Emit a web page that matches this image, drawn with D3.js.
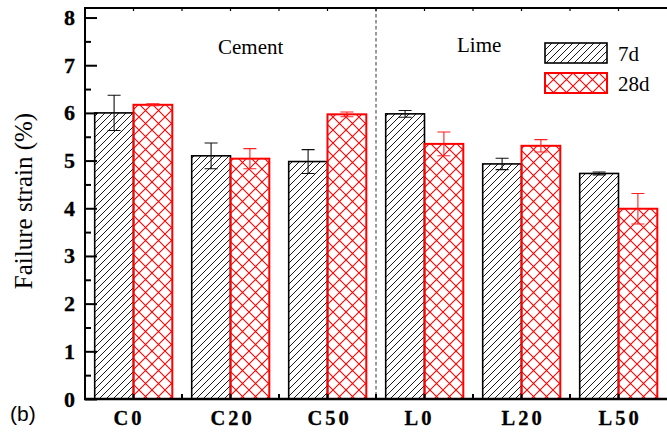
<!DOCTYPE html>
<html>
<head>
<meta charset="utf-8">
<script src="https://cdn.jsdelivr.net/npm/d3@7/dist/d3.min.js"></script>
<style>
  html, body { margin: 0; padding: 0; background: #fff; }
  svg { display: block; }
  .serif { font-family: "Liberation Serif", "Times New Roman", Times, serif; }
  .sans { font-family: "Liberation Sans", Arial, Helvetica, sans-serif; }
</style>
</head>
<body>
<svg id="chart" width="667" height="434"></svg>
<script>
// Failure strain of cement- and lime-treated mixes after 7 and 28 days
const categories = ["C0", "C20", "C50", "L0", "L20", "L50"];
const seriesNames = ["7d", "28d"];
const strain7d  = [6.00, 5.10, 4.98, 5.98, 4.93, 4.73];
const err7d     = [0.37, 0.27, 0.25, 0.07, 0.12, 0.03];
const strain28d = [6.17, 5.04, 5.97, 5.35, 5.31, 3.99];
const err28d    = [0.02, 0.21, 0.05, 0.25, 0.13, 0.32];
const yTicks = [0, 1, 2, 3, 4, 5, 6, 7, 8];
const yMinorTicks = [0.5, 1.5, 2.5, 3.5, 4.5, 5.5, 6.5, 7.5];
const groupLabels = ["Cement", "Lime"];

const rows = categories.map((c, i) => ({
  cat: c,
  bars: [
    { s: "7d", v: strain7d[i], e: err7d[i] },
    { s: "28d", v: strain28d[i], e: err28d[i] }
  ]
}));

const svg = d3.select("#chart");
const plotL = 85, plotR = 667, plotT = 8, plotB = 399;

const x = d3.scaleBand().domain(categories).range([plotL, plotR]).padding(0);
const bw = x.bandwidth();
const xs = d3.scaleBand().domain(seriesNames).range([bw * 0.1, bw * 0.9]).padding(0);
const y = d3.scaleLinear().domain([0, 8.2]).range([plotB, plotT]);

// hatch patterns
const defs = svg.append("defs");
const hatch = defs.append("pattern")
  .attr("id", "hatch7").attr("patternUnits", "userSpaceOnUse")
  .attr("width", 7).attr("height", 7);
hatch.append("path").attr("d", "M-1,1 L1,-1 M0,7 L7,0 M6,8 L8,6")
  .attr("stroke", "#000").attr("stroke-width", 0.9);

const cross = defs.append("pattern")
  .attr("id", "cross28").attr("patternUnits", "userSpaceOnUse")
  .attr("width", 13).attr("height", 13).attr("x", 2);
cross.append("path").attr("d", "M0,0 L13,13 M0,13 L13,0")
  .attr("stroke", "#ff0000").attr("stroke-width", 1.1);

const fillOf = s => s === "7d" ? "url(#hatch7)" : "url(#cross28)";
const strokeOf = s => s === "7d" ? "#000" : "#ff0000";

// bars
const grp = svg.append("g").selectAll("g.grp").data(rows).join("g")
  .attr("class", "grp")
  .attr("transform", d => `translate(${x(d.cat)},0)`);

grp.selectAll("rect.bar").data(d => d.bars).join("rect")
  .attr("class", "bar")
  .attr("x", d => xs(d.s))
  .attr("y", d => y(d.v))
  .attr("width", xs.bandwidth())
  .attr("height", d => y(0) - y(d.v))
  .attr("fill", d => fillOf(d.s))
  .attr("stroke", d => strokeOf(d.s))
  .attr("stroke-width", d => d.s === "7d" ? 1.6 : 2);

// error bars
const cap = 6.5;
grp.selectAll("path.err").data(d => d.bars).join("path")
  .attr("class", "err")
  .attr("stroke", d => d.s === "7d" ? "#111" : "#ff2020")
  .attr("stroke-width", 1.1)
  .attr("fill", "none")
  .attr("d", d => {
    const cx = xs(d.s) + xs.bandwidth() / 2;
    const y1 = y(d.v + d.e), y2 = y(d.v - d.e);
    return `M${cx},${y1}V${y2}M${cx - cap},${y1}H${cx + cap}M${cx - cap},${y2}H${cx + cap}`;
  });

// dashed separator between the cement and lime groups
const sepX = x("L0");
svg.append("line")
  .attr("x1", sepX).attr("x2", sepX).attr("y1", plotT).attr("y2", plotB)
  .attr("stroke", "#333").attr("stroke-width", 1)
  .attr("stroke-dasharray", "3.5,2.5");

// axes frame
svg.append("line").attr("x1", plotL).attr("x2", plotL).attr("y1", plotT - 1).attr("y2", plotB + 1)
  .attr("stroke", "#000").attr("stroke-width", 2);
svg.append("line").attr("x1", plotL - 1).attr("x2", plotR).attr("y1", plotT).attr("y2", plotT)
  .attr("stroke", "#000").attr("stroke-width", 2);
svg.append("line").attr("x1", plotL - 1).attr("x2", plotR).attr("y1", plotB).attr("y2", plotB)
  .attr("stroke", "#000").attr("stroke-width", 2.5);

// left axis with inward ticks
const yAxis = d3.axisRight(y).tickValues(yTicks).tickSize(12).tickFormat("");
svg.append("g").attr("transform", `translate(${plotL},0)`).call(yAxis)
  .call(a => a.select(".domain").remove())
  .call(a => a.selectAll("line").attr("stroke", "#000").attr("stroke-width", 2));
const yMinor = d3.axisRight(y).tickValues(yMinorTicks).tickSize(6).tickFormat("");
svg.append("g").attr("transform", `translate(${plotL},0)`).call(yMinor)
  .call(a => a.select(".domain").remove())
  .call(a => a.selectAll("line").attr("stroke", "#000").attr("stroke-width", 2));

svg.append("g").selectAll("text").data(yTicks).join("text")
  .attr("class", "serif")
  .attr("x", 75).attr("y", d => y(d) + 7.5)
  .attr("text-anchor", "end")
  .attr("font-weight", "bold").attr("font-size", 22)
  .attr("stroke", "#000").attr("stroke-width", 0.3)
  .text(d => d);

// bottom and top axes: small inward ticks at group centres and boundaries
const xTickPos = [];
categories.forEach((c, i) => {
  xTickPos.push(x(c) + bw / 2);
  if (i > 0) xTickPos.push(x(c));
});
svg.append("g").selectAll("line").data(xTickPos).join("line")
  .attr("x1", d => d).attr("x2", d => d)
  .attr("y1", plotB).attr("y2", plotB - 5)
  .attr("stroke", "#000").attr("stroke-width", 2);
svg.append("g").selectAll("line").data(xTickPos).join("line")
  .attr("x1", d => d).attr("x2", d => d)
  .attr("y1", plotT).attr("y2", plotT + 3)
  .attr("stroke", "#000").attr("stroke-width", 1.2);

// category labels start a fixed distance left of each group centre
svg.append("g").selectAll("text").data(categories).join("text")
  .attr("class", "serif")
  .attr("x", d => x(d) + bw / 2 - 20).attr("y", 425)
  .attr("text-anchor", "start")
  .attr("font-weight", "bold").attr("font-size", 20.5)
  .attr("letter-spacing", 3)
  .attr("stroke", "#000").attr("stroke-width", 0.3)
  .text(d => d);

// y title
svg.append("text")
  .attr("class", "serif")
  .attr("transform", "translate(32,201) rotate(-90)")
  .attr("text-anchor", "middle")
  .attr("font-size", 25)
  .text("Failure strain (%)");

// panel label
svg.append("text")
  .attr("class", "sans")
  .attr("x", 10).attr("y", 421)
  .attr("font-size", 21)
  .text("(b)");

// group annotations
svg.append("text").attr("class", "serif").attr("x", 218).attr("y", 54)
  .attr("font-size", 21)
  .text(groupLabels[0]);
svg.append("text").attr("class", "serif").attr("x", 457).attr("y", 52)
  .attr("font-size", 21)
  .text(groupLabels[1]);

// legend
const legend = svg.append("g").selectAll("g").data(seriesNames).join("g")
  .attr("transform", (d, i) => `translate(545,${43 + i * 30})`);
legend.append("rect").attr("width", 62).attr("height", 20)
  .attr("fill", d => fillOf(d))
  .attr("stroke", d => strokeOf(d))
  .attr("stroke-width", d => d === "7d" ? 1.6 : 2);
legend.append("text").attr("class", "serif").attr("x", 73).attr("y", 18)
  .attr("font-size", 21)
  .text(d => d);
</script>
</body>
</html>
